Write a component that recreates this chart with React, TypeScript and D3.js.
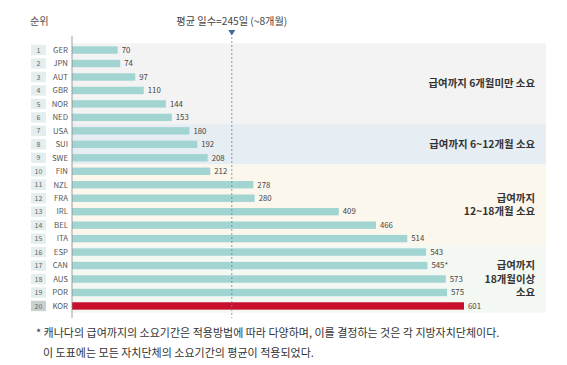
import React, { useEffect, useRef } from 'react';
import * as d3 from 'd3';

const ranks = [1, 2, 3, 4, 5, 6, 7, 8, 9, 10, 11, 12, 13, 14, 15, 16, 17, 18, 19, 20];
const countries = ['GER', 'JPN', 'AUT', 'GBR', 'NOR', 'NED', 'USA', 'SUI', 'SWE', 'FIN', 'NZL', 'FRA', 'IRL', 'BEL', 'ITA', 'ESP', 'CAN', 'AUS', 'POR', 'KOR'];
const days = [70, 74, 97, 110, 144, 153, 180, 192, 208, 212, 278, 280, 409, 466, 514, 543, 545, 573, 575, 601];
const valueLabels = ['70', '74', '97', '110', '144', '153', '180', '192', '208', '212', '278', '280', '409', '466', '514', '543', '545*', '573', '575', '601'];
const averageDays = 245;

// groups: first row, last row, label lines
const bandStart = [0, 6, 9, 15];
const bandEnd = [5, 8, 14, 19];
const bandColors = ['#f3f3f3', '#e6edf3', '#fcf7ec', '#f3f8f2'];
const bandLabels = [
  ['급여까지 6개월미만 소요'],
  ['급여까지 6~12개월 소요'],
  ['급여까지', '12~18개월 소요'],
  ['급여까지', '18개월이상', '소요'],
];

const App = () => {
  const svgRef = useRef<SVGSVGElement>(null);

  useEffect(() => {
    const svg = d3.select(svgRef.current);
    const font = "'Noto Sans CJK KR', 'Noto Sans', sans-serif";

    svg.selectAll('*').remove();

    const x = d3.scaleLinear().domain([0, 601]).range([72, 464]);
    const y = d3.scaleBand<number>()
      .domain(d3.range(countries.length))
      .range([43.3, 312.7])
      .paddingInner(0.45)
      .paddingOuter(0.225);
    const step = y.step();
    const top = (i: number) => y(i)! - step * 0.225;

    // background bands
    svg.append('g')
      .selectAll('rect')
      .data(bandStart)
      .join('rect')
      .attr('x', x(0))
      .attr('y', (d) => top(d))
      .attr('width', 546 - x(0))
      .attr('height', (d, i) => (bandEnd[i] - d + 1) * step)
      .attr('fill', (d, i) => bandColors[i]);

    // band labels
    bandStart.forEach((s, i) => {
      const cy = (top(s) + top(bandEnd[i]) + step) / 2;
      const lines = bandLabels[i];
      const lh = 13.5;
      svg.append('text')
        .attr('text-anchor', 'end')
        .attr('font-family', font)
        .attr('font-size', 10.4)
        .attr('font-weight', 'bold')
        .attr('fill', '#333')
        .selectAll('tspan')
        .data(lines)
        .join('tspan')
        .attr('x', 535)
        .attr('y', (d, j) => cy + (j - (lines.length - 1) / 2) * lh + 3.7)
        .text((d) => d);
    });

    // rank boxes
    svg.append('g')
      .selectAll('rect')
      .data(ranks)
      .join('rect')
      .attr('x', 31)
      .attr('y', (d, i) => y(i)! - 1.5)
      .attr('width', 15)
      .attr('height', y.bandwidth() + 3)
      .attr('fill', (d, i) => (i === 19 ? '#c9d0d0' : '#e4eeee'));

    svg.append('g')
      .selectAll('text')
      .data(ranks)
      .join('text')
      .attr('x', 38.5)
      .attr('y', (d, i) => y(i)! + y.bandwidth() / 2 + 2.6)
      .attr('text-anchor', 'middle')
      .attr('font-family', font)
      .attr('font-size', 7)
      .attr('fill', '#666')
      .text((d) => d);

    svg.append('g')
      .selectAll('text')
      .data(countries)
      .join('text')
      .attr('x', 68)
      .attr('y', (d, i) => y(i)! + y.bandwidth() / 2 + 2.8)
      .attr('text-anchor', 'end')
      .attr('font-family', font)
      .attr('font-size', 7.8)
      .attr('fill', '#555')
      .text((d) => d);

    // bars
    svg.append('g')
      .selectAll('rect')
      .data(days)
      .join('rect')
      .attr('x', x(0))
      .attr('y', (d, i) => y(i)!)
      .attr('width', (d) => x(d) - x(0))
      .attr('height', y.bandwidth())
      .attr('fill', (d, i) => (countries[i] === 'KOR' ? '#c8102e' : '#a2d4d2'));

    svg.append('g')
      .selectAll('text')
      .data(days)
      .join('text')
      .attr('x', (d) => x(d) + 4)
      .attr('y', (d, i) => y(i)! + y.bandwidth() / 2 + 2.8)
      .attr('font-family', font)
      .attr('font-size', 7.8)
      .attr('fill', '#444')
      .text((d, i) => valueLabels[i]);

    // axis line
    svg.append('line')
      .attr('x1', x(0)).attr('x2', x(0))
      .attr('y1', 36).attr('y2', 318)
      .attr('stroke', '#888')
      .attr('stroke-width', 0.8);

    // average line
    svg.append('line')
      .attr('x1', x(averageDays)).attr('x2', x(averageDays))
      .attr('y1', 37).attr('y2', 318)
      .attr('stroke', '#5b84b1')
      .attr('stroke-width', 0.8)
      .attr('stroke-dasharray', '2,2');

    svg.append('path')
      .attr('d', `M${x(averageDays) - 3.5},30 L${x(averageDays) + 3.5},30 L${x(averageDays)},35.5 Z`)
      .attr('fill', '#3b6a9c');

    svg.append('text')
      .attr('x', x(averageDays))
      .attr('y', 25)
      .attr('text-anchor', 'middle')
      .attr('font-family', font)
      .attr('font-size', 10.2)
      .attr('fill', '#444')
      .text('평균 일수=245일 (~8개월)');

    svg.append('text')
      .attr('x', 30)
      .attr('y', 25)
      .attr('font-family', font)
      .attr('font-size', 10.2)
      .attr('fill', '#555')
      .text('순위');

    // footnote
    svg.append('text')
      .attr('x', 36)
      .attr('y', 337)
      .attr('font-family', font)
      .attr('font-size', 11)
      .attr('fill', '#333')
      .text('* 캐나다의 급여까지의 소요기간은 적용방법에 따라 다양하며, 이를 결정하는 것은 각 지방자치단체이다.');

    svg.append('text')
      .attr('x', 43)
      .attr('y', 357)
      .attr('font-family', font)
      .attr('font-size', 11)
      .attr('fill', '#333')
      .text('이 도표에는 모든 자치단체의 소요기간의 평균이 적용되었다.');
  }, []);

  return (
    <svg
      ref={svgRef}
      width="567"
      height="365"
      style={{ position: 'absolute', left: 0, top: 0, background: '#fff' }}
    ></svg>
  );
};

export default App;
